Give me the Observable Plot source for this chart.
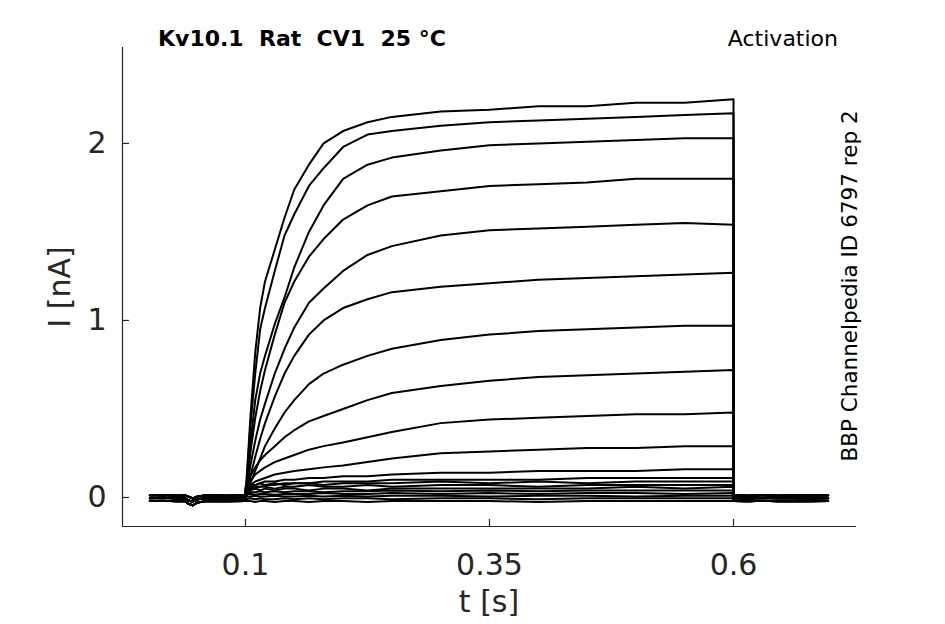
<!DOCTYPE html>
<html><head><meta charset="utf-8">
<script src="https://cdn.jsdelivr.net/npm/d3@7"></script>
<script src="https://cdn.jsdelivr.net/npm/@observablehq/plot@0.6"></script>
<style>
body{margin:0;background:#fff}
#wrap{width:945px;height:624px}
</style></head>
<body><div id="wrap"></div>
<script>
// ---- data ----
const titleText = "Kv10.1  Rat  CV1  25 °C";
const protocolText = "Activation";
const sideText = "BBP Channelpedia ID 6797 rep 2";
const xLabel = "t [s]";
const yLabel = "I [nA]";
const xTicks = [0.1, 0.35, 0.6];
const yTicks = [0, 1, 2];

// holding baseline before the step (three envelope readings of the thick band)
const baseTimes = [0.002, 0.015, 0.03, 0.038, 0.041, 0.046, 0.051, 0.06, 0.08, 0.1];
const baseUpper = [0.012, 0.014, 0.010, 0.012, 0.006, -0.006, 0.006, 0.012, 0.010, 0.012];
const baseMid   = [-0.004, -0.002, -0.006, -0.004, -0.016, -0.024, -0.010, -0.004, -0.006, -0.004];
const baseLower = [-0.02, -0.018, -0.022, -0.02, -0.034, -0.045, -0.028, -0.02, -0.022, -0.02];

// tail after the step
const tailTimes = [0.6, 0.615, 0.63, 0.645, 0.66, 0.675, 0.697];
const tailUpper = [0.012, 0.010, 0.013, 0.010, 0.012, 0.011, 0.012];
const tailMid   = [-0.004, -0.006, -0.003, -0.005, -0.004, -0.006, -0.004];
const tailLower = [-0.02, -0.022, -0.019, -0.021, -0.02, -0.022, -0.02];

// step sweeps
const stepTimes = [0.1, 0.105, 0.11, 0.115, 0.12, 0.13, 0.14, 0.15, 0.165, 0.18, 0.2, 0.225, 0.25, 0.3, 0.35, 0.4, 0.45, 0.5, 0.55, 0.6];
const sweep01 = [0, 0.45, 0.82, 1.07, 1.22, 1.40, 1.58, 1.74, 1.88, 2.00, 2.07, 2.12, 2.15, 2.18, 2.19, 2.21, 2.21, 2.23, 2.23, 2.25];
const sweep02 = [0, 0.40, 0.70, 0.95, 1.07, 1.28, 1.48, 1.60, 1.76, 1.86, 1.98, 2.05, 2.07, 2.10, 2.12, 2.13, 2.14, 2.15, 2.16, 2.17];
const sweep03 = [0, 0.30, 0.55, 0.70, 0.80, 0.98, 1.13, 1.30, 1.50, 1.65, 1.80, 1.88, 1.92, 1.96, 1.99, 2.00, 2.01, 2.02, 2.03, 2.03];
const sweep04 = [0, 0.25, 0.45, 0.60, 0.72, 0.92, 1.10, 1.22, 1.36, 1.46, 1.57, 1.65, 1.70, 1.73, 1.76, 1.77, 1.78, 1.80, 1.80, 1.80];
const sweep05 = [0, 0.18, 0.32, 0.44, 0.53, 0.70, 0.84, 0.96, 1.10, 1.18, 1.28, 1.37, 1.42, 1.48, 1.51, 1.52, 1.53, 1.54, 1.55, 1.54];
const sweep06 = [0, 0.12, 0.23, 0.33, 0.42, 0.57, 0.70, 0.80, 0.92, 1.00, 1.07, 1.12, 1.16, 1.19, 1.21, 1.23, 1.24, 1.25, 1.26, 1.27];
const sweep07 = [0, 0.08, 0.15, 0.22, 0.29, 0.39, 0.48, 0.55, 0.64, 0.70, 0.75, 0.80, 0.84, 0.89, 0.92, 0.94, 0.95, 0.96, 0.97, 0.97];
const sweep08 = [0, 0.12, 0.17, 0.21, 0.24, 0.29, 0.34, 0.38, 0.43, 0.46, 0.50, 0.55, 0.59, 0.63, 0.66, 0.68, 0.69, 0.70, 0.71, 0.72];
const sweep09 = [0, 0.09, 0.13, 0.15, 0.17, 0.20, 0.22, 0.24, 0.27, 0.29, 0.31, 0.34, 0.37, 0.42, 0.44, 0.45, 0.46, 0.47, 0.47, 0.48];
const sweep10 = [0, 0.07, 0.09, 0.10, 0.11, 0.13, 0.14, 0.15, 0.16, 0.17, 0.18, 0.20, 0.22, 0.25, 0.26, 0.27, 0.28, 0.28, 0.29, 0.29];
const sweep11 = [0, 0.06, 0.07, 0.08, 0.09, 0.09, 0.10, 0.10, 0.11, 0.11, 0.12, 0.12, 0.13, 0.14, 0.14, 0.15, 0.15, 0.15, 0.16, 0.16];
const sweep12 = [0.03, 0.05, 0.06, 0.06, 0.07, 0.07, 0.08, 0.08, 0.08, 0.09, 0.09, 0.09, 0.10, 0.10, 0.10, 0.10, 0.11, 0.11, 0.11, 0.11];
const sweep13 = [0.06, 0.07, 0.07, 0.08, 0.07, 0.08, 0.07, 0.08, 0.08, 0.07, 0.08, 0.08, 0.08, 0.09, 0.08, 0.09, 0.08, 0.09, 0.09, 0.09];
const sweep14 = [0.05, 0.06, 0.05, 0.06, 0.06, 0.05, 0.06, 0.06, 0.07, 0.06, 0.06, 0.07, 0.06, 0.07, 0.07, 0.06, 0.07, 0.07, 0.07, 0.07];
const sweep15 = [0.04, 0.04, 0.05, 0.04, 0.05, 0.04, 0.05, 0.05, 0.04, 0.05, 0.05, 0.04, 0.05, 0.05, 0.05, 0.05, 0.05, 0.06, 0.05, 0.06];
const sweep16 = [0.03, 0.03, 0.03, 0.035, 0.03, 0.035, 0.03, 0.035, 0.035, 0.03, 0.035, 0.035, 0.04, 0.035, 0.04, 0.035, 0.04, 0.04, 0.04, 0.04];
const sweep17 = [0.02, 0.02, 0.015, 0.02, 0.02, 0.015, 0.02, 0.02, 0.02, 0.025, 0.02, 0.02, 0.025, 0.02, 0.025, 0.02, 0.025, 0.025, 0.02, 0.025];
const sweep18 = [0.005, 0.005, 0.01, 0.005, 0.005, 0.01, 0.005, 0.005, 0.01, 0.005, 0.01, 0.005, 0.01, 0.01, 0.005, 0.01, 0.01, 0.005, 0.01, 0.01];
const sweep19 = [-0.01, -0.005, -0.01, -0.005, -0.01, -0.01, -0.005, -0.01, -0.005, -0.01, -0.005, -0.005, -0.01, -0.005, -0.005, -0.01, -0.005, -0.005, -0.005, -0.005];
const sweep20 = [-0.02, -0.02, -0.025, -0.02, -0.02, -0.025, -0.02, -0.02, -0.025, -0.02, -0.02, -0.025, -0.02, -0.02, -0.02, -0.025, -0.02, -0.02, -0.02, -0.02];

const sweeps = [sweep01, sweep02, sweep03, sweep04, sweep05, sweep06, sweep07, sweep08, sweep09, sweep10,
                sweep11, sweep12, sweep13, sweep14, sweep15, sweep16, sweep17, sweep18, sweep19, sweep20];
const baseSets = [baseUpper, baseMid, baseLower];
const tailSets = [tailUpper, tailMid, tailLower];

// ---- build table ----
const rows = [];
sweeps.forEach((s, k) => {
  const b = baseSets[k % 3], tl = tailSets[k % 3];
  baseTimes.forEach((t, i) => rows.push({sweep: k, t, I: b[i]}));
  stepTimes.forEach((t, i) => rows.push({sweep: k, t, I: s[i]}));
  tailTimes.forEach((t, i) => rows.push({sweep: k, t, I: tl[i]}));
});

const xDom = [-0.026, 0.726];
const yDom = [-0.164, 2.542];
const axisColor = "#262626";
const W = 945, H = 624, mL = 122, mR = 89, mT = 47, mB = 98;
const tickLenX = 7 * (xDom[1] - xDom[0]) / (W - mL - mR);
const tickLenY = 7 * (yDom[1] - yDom[0]) / (H - mT - mB);

const chart = Plot.plot({
  width: W, height: H,
  marginLeft: mL, marginRight: mR, marginTop: mT, marginBottom: mB,
  style: {fontFamily: "DejaVu Sans", background: "#fff", color: axisColor},
  x: {domain: xDom, label: null},
  y: {domain: yDom, label: null},
  marks: [
    Plot.line(rows, {x: "t", y: "I", z: "sweep", stroke: "black", strokeWidth: 2, strokeLinejoin: "round"}),
    Plot.ruleX([xDom[0]], {stroke: axisColor, strokeWidth: 1.2}),
    Plot.ruleY([yDom[0]], {stroke: axisColor, strokeWidth: 1.2}),
    Plot.ruleX(xTicks, {y1: yDom[0], y2: yDom[0] + tickLenY, stroke: axisColor, strokeWidth: 1.2}),
    Plot.ruleY(yTicks, {x1: xDom[0], x2: xDom[0] + tickLenX, stroke: axisColor, strokeWidth: 1.2}),
    Plot.axisX(xTicks, {tickSize: 0, tickPadding: 27, fontSize: 30, tickFormat: d => String(d), label: null, fill: axisColor}),
    Plot.axisY(yTicks, {tickSize: 0, tickPadding: 16, fontSize: 30, tickFormat: d => String(d), label: null, fill: axisColor})
  ]
});

const svg = d3.select(chart);
svg.append("text").attr("x", 158).attr("y", 46).attr("font-size", 22).attr("font-weight", "bold")
   .attr("text-anchor", "start").attr("fill", "#000").style("white-space", "pre").text(titleText);
svg.append("text").attr("x", 838).attr("y", 46).attr("font-size", 22).attr("text-anchor", "end")
   .attr("fill", "#000").text(protocolText);
svg.append("text").attr("transform", "translate(857,286) rotate(-90)").attr("font-size", 21.5)
   .attr("text-anchor", "middle").attr("fill", "#000").text(sideText);
svg.append("text").attr("transform", "translate(70,287) rotate(-90)").attr("font-size", 30)
   .attr("text-anchor", "middle").attr("fill", axisColor).text(yLabel);
svg.append("text").attr("x", 489).attr("y", 612).attr("font-size", 30)
   .attr("text-anchor", "middle").attr("fill", axisColor).text(xLabel);

document.getElementById("wrap").appendChild(chart);
</script>
</body></html>
